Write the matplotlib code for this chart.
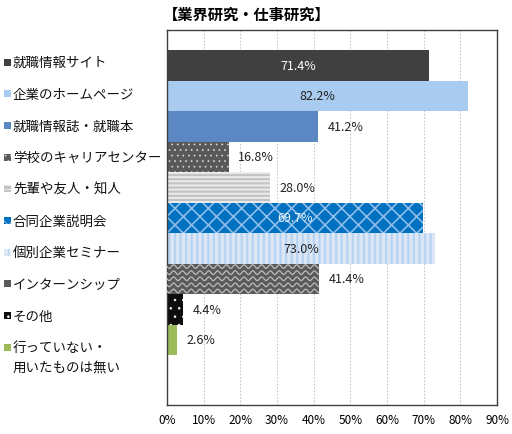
import numpy as np
import matplotlib
matplotlib.use("Agg")
import matplotlib.pyplot as plt

plt.rcParams['font.family'] = ['Noto Sans CJK JP', 'DejaVu Sans']

# data
categories = ['就職情報サイト', '企業のホームページ', '就職情報誌・就職本', '学校のキャリアセンター',
              '先輩や友人・知人', '合同企業説明会', '個別企業セミナー', 'インターンシップ',
              'その他', '行っていない・\n用いたものは無い']
values = [71.4, 82.2, 41.2, 16.8, 28.0, 69.7, 73.0, 41.4, 4.4, 2.6]
xticks = [0, 10, 20, 30, 40, 50, 60, 70, 80, 90]

# fill, hatch, hatch colour, hatch width for each bar
faces = ['#404040', '#A9CBEF', '#5B88C2', '#595959', '#C3C3C3',
         '#0070C0', '#DCE7F6', '#5A5A5A', '#0D0D0D', '#9BBB59']
hatches = [None, None, None, '...', '----', 'xx', '|||', None, '..', None]
hatch_cols = ['none', 'none', 'none', '#D9D9D9', '#ECECEC',
              '#8FBDEA', '#B7D3F2', 'none', '#F5F5F5', 'none']
hatch_lw = [1, 1, 1, 0.5, 1.4, 1.2, 1.6, 1, 0.6, 1]
inside = [True, True, False, False, False, True, True, False, False, False]
label_cols = ['white', '#222222', '#222222', '#222222', '#222222',
              '#F0F4FA', '#222222', '#222222', '#222222', '#222222']
num_font = ['Liberation Sans Narrow', 'Noto Sans CJK JP', 'DejaVu Sans']

fig = plt.figure(figsize=(5.12, 4.35), dpi=100)
ax = fig.add_axes([167 / 512, 1 - 406 / 435, 330 / 512, 375 / 435])

y = np.arange(len(values))
bars = []
for i, v in enumerate(values):
    with plt.rc_context({'hatch.linewidth': hatch_lw[i]}):
        b = ax.barh(y[i], v, height=1.0, color=faces[i], hatch=hatches[i],
                    edgecolor=hatch_cols[i], linewidth=0, zorder=2)
    bars.append(b[0])

# wavy pattern on the internship bar
wb = bars[7]
xs = np.linspace(0, values[7], 400)
for row in np.linspace(7 - 0.4, 7 + 0.4, 5):
    ax.plot(xs, row + 0.06 * np.sin(xs * 2 * np.pi / 2.4), color='#BDBDBD',
            lw=0.9, zorder=3, clip_path=wb)

ax.set_xlim(0, 90)
ax.set_ylim(11.14, -1.16)
ax.set_xticks(xticks)
ax.set_xticklabels([f'{t}%' for t in xticks], fontsize=8.5, family=num_font)
ax.set_yticks([])
ax.tick_params(axis='x', length=0, pad=6)
ax.grid(axis='x', color='#C8C8C8', linestyle=(0, (1.5, 1.5)), lw=0.8, zorder=0)
for s in ax.spines.values():
    s.set_color('#404040')
    s.set_linewidth(1.0)

# value labels
for i, v in enumerate(values):
    if inside[i]:
        ax.text(v / 2, y[i], f'{v:.1f}%', ha='center', va='center', family=num_font,
                fontsize=9, color=label_cols[i], zorder=4)
    else:
        ax.annotate(f'{v:.1f}%', (v, y[i]), xytext=(7, 0), textcoords='offset points',
                    ha='left', va='center', fontsize=9, family=num_font,
                    color=label_cols[i], zorder=4)

# category labels with small coloured squares at the far left
for i, lab in enumerate(categories):
    ypx = 63 + i * 31.7
    fy = 1 - ypx / 435
    with plt.rc_context({'hatch.linewidth': 0.6}):
        fig.patches.append(plt.Rectangle((4 / 512, fy - 3.5 / 435), 7 / 512, 7 / 435,
                                         transform=fig.transFigure, facecolor=faces[i],
                                         hatch=hatches[i], edgecolor=hatch_cols[i], lw=0))
    for k, line in enumerate(lab.split('\n')):
        fig.text(13 / 512, 1 - (ypx + k * 19) / 435, line, ha='left', va='center',
                 fontsize=9.7, color='#111111')

fig.text(247 / 512, 1 - 15 / 435, '【業界研究・仕事研究】', ha='center', va='center',
         fontsize=11, fontweight='bold')

fig.savefig('out.png', dpi=100)
